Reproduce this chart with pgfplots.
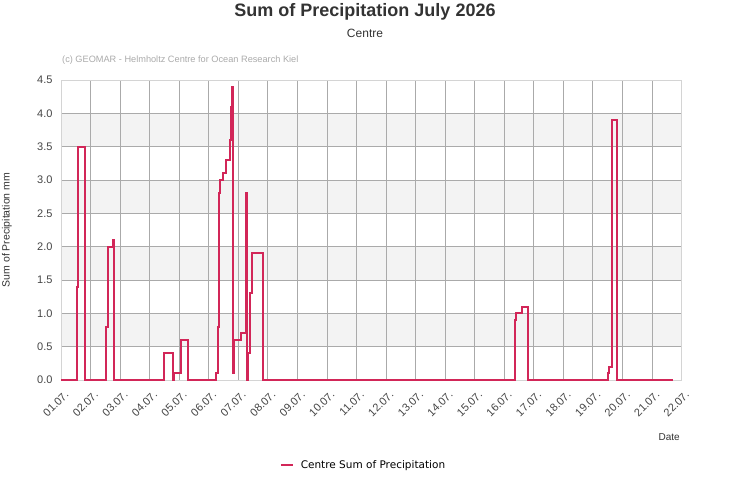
\documentclass[border=0pt]{standalone}
\usepackage{fontspec}
\setmainfont{Liberation Sans}
\newfontfamily\legendfont{DejaVu Sans}
\usepackage{pgfplots}
\pgfplotsset{compat=1.18}
\definecolor{precip}{RGB}{210,38,88}
\definecolor{gridgray}{RGB}{170,170,170}
\definecolor{framegray}{RGB}{212,212,212}
\definecolor{bandgray}{RGB}{243,243,243}
\definecolor{titlegray}{RGB}{51,51,51}
\definecolor{labelgray}{RGB}{68,68,68}
\definecolor{copygray}{RGB}{170,170,170}

\begin{document}
\begin{tikzpicture}[x=1pt,y=1pt]
\begin{axis}[
  set layers,
  scale only axis,
  width=620.5pt, height=300pt,
  at={(61pt,120pt)}, anchor=south west,
  xmin=0, xmax=21, ymin=0, ymax=4.5,
  xtick={0,1,...,21},
  xticklabels={01.07.,02.07.,03.07.,04.07.,05.07.,06.07.,07.07.,08.07.,09.07.,10.07.,11.07.,12.07.,13.07.,14.07.,15.07.,16.07.,17.07.,18.07.,19.07.,20.07.,21.07.,22.07.},
  ytick={0,0.5,...,4.5},
  grid=major,
  grid style={color=gridgray, line width=0.8pt},
  axis line style={color=framegray, line width=0.8pt},
  major tick length=0pt,
  /pgf/number format/assume math mode=true,
  tick label style={font=\fontsize{11}{13}\selectfont, color=labelgray},
  /pgf/number format/fixed,
  /pgf/number format/fixed zerofill,
  /pgf/number format/precision=1,
  yticklabel style={xshift=-5pt},
  xticklabel style={rotate=45, anchor=base east, inner sep=0pt, xshift=-5pt, yshift=-17pt},
  legend style={at={(0.4875,-0.283)}, anchor=center, draw=none, fill=none,
                font=\legendfont\fontsize{10.5}{12}\selectfont, text=black,
                legend cell align=left},
  legend image code/.code={\draw[#1, line width=2pt] (0pt,0pt) -- (12pt,0pt);
                           \path (17pt,0pt);},
  clip=false,
]
% alternating horizontal bands behind the grid
\begin{pgfonlayer}{axis background}
  \fill[bandgray] (axis cs:0,0.5) rectangle (axis cs:21,1.0);
  \fill[bandgray] (axis cs:0,1.5) rectangle (axis cs:21,2.0);
  \fill[bandgray] (axis cs:0,2.5) rectangle (axis cs:21,3.0);
  \fill[bandgray] (axis cs:0,3.5) rectangle (axis cs:21,4.0);
\end{pgfonlayer}

% x: days since 01.07. 00:00, y: precipitation sum in mm
\addplot[const plot mark left, color=precip, line width=2pt, line join=miter] coordinates {
  (0,0)
  (0.55,1.4) (0.56,3.5) (0.81,0)
  (1.52,0.8) (1.58,2.0) (1.77,2.1) (1.78,0)
  (3.49,0.4) (3.80,0) (3.83,0.1) (4.07,0.6) (4.31,0)
  (5.25,0.1) (5.31,0.8) (5.34,1.4) (5.36,2.8) (5.38,3.0) (5.49,3.1) (5.58,3.3)
  (5.72,3.6) (5.74,4.1) (5.78,4.4) (5.82,0.1) (5.86,0.6) (6.08,0.7)
  (6.25,2.5) (6.27,2.8) (6.31,0) (6.33,0.4) (6.40,1.3) (6.45,1.5) (6.48,1.9) (6.82,0)
  (15.36,0.9) (15.40,1.0) (15.61,1.1) (15.81,0)
  (18.52,0.1) (18.55,0.2) (18.66,3.9) (18.83,0)
  (20.70,0)
};
\addlegendentry{Centre Sum of Precipitation}
\end{axis}

% titles and labels
\node[font=\bfseries\fontsize{18}{21}\selectfont, color=titlegray] at (365pt,488pt) {Sum of Precipitation July 2026};
\node[font=\fontsize{12}{14}\selectfont, color=titlegray] at (365pt,467pt) {Centre};
\node[font=\fontsize{9.2}{11}\selectfont, color=copygray, anchor=west, inner sep=0pt] at (62pt,440pt) {(c) GEOMAR - Helmholtz Centre for Ocean Research Kiel};
\node[font=\fontsize{10.5}{12}\selectfont, color=titlegray, rotate=90] at (7pt,270pt) {Sum of Precipitation mm};
\node[font=\fontsize{10}{12}\selectfont, color=titlegray, anchor=east, inner sep=0pt] at (680pt,63pt) {Date};

\pgfresetboundingbox
\path (0pt,0pt) rectangle (731pt,500pt);
\end{tikzpicture}
\end{document}
